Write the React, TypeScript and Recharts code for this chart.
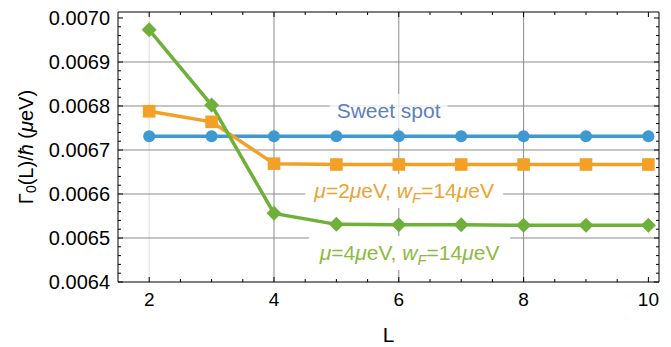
import React from 'react'
import { LineChart, Line, XAxis, YAxis, ReferenceLine, ReferenceDot } from 'recharts'

// chain length L and decay rate Γ0(L)/ħ in μeV
const lengths = [2, 3, 4, 5, 6, 7, 8, 9, 10]
const sweetSpot = [0.006731, 0.006731, 0.006731, 0.006731, 0.006731, 0.006731, 0.006731, 0.006731, 0.006731]
const mu2 = [0.006788, 0.006764, 0.006669, 0.006667, 0.006667, 0.006667, 0.006667, 0.006667, 0.006667]
const mu4 = [0.006973, 0.006802, 0.006556, 0.006531, 0.00653, 0.00653, 0.006529, 0.006529, 0.006529]

const xTicks = [2, 4, 6, 8, 10]
const xMinorTicks = [2.5, 3, 3.5, 4.5, 5, 5.5, 6.5, 7, 7.5, 8.5, 9, 9.5]
const yTicks = [0.0064, 0.0065, 0.0066, 0.0067, 0.0068, 0.0069, 0.007]
const yMinorTicks = [
  0.00642, 0.00644, 0.00646, 0.00648, 0.00652, 0.00654, 0.00656, 0.00658,
  0.00662, 0.00664, 0.00666, 0.00668, 0.00672, 0.00674, 0.00676, 0.00678,
  0.00682, 0.00684, 0.00686, 0.00688, 0.00692, 0.00694, 0.00696, 0.00698,
]
const xGridLight = [2]
const xGrid = [4, 6, 8]
const yGrid = [0.0065, 0.0066, 0.0067, 0.0068, 0.0069]

const data = lengths.map((L, i) => ({ L, sweet: sweetSpot[i], mu2: mu2[i], mu4: mu4[i] }))

const X_DOMAIN: [number, number] = [1.5, 10.17]
const Y_DOMAIN: [number, number] = [0.0064, 0.0070136]

const BLUE = '#3d99d0'
const ORANGE = '#f2a126'
const GREEN = '#6fb03a'
const GRID = '#8c8c8c'

const circleDot = (p: any) => (
  <circle key={`c${p.index}`} cx={p.cx} cy={p.cy} r={6} fill={BLUE} />
)
const squareDot = (p: any) => (
  <rect key={`s${p.index}`} x={p.cx - 6.3} y={p.cy - 6.3} width={12.6} height={12.6} fill={ORANGE} />
)
const diamondDot = (p: any) => (
  <path
    key={`d${p.index}`}
    d={`M${p.cx},${p.cy - 7.5}L${p.cx + 7.5},${p.cy}L${p.cx},${p.cy + 7.5}L${p.cx - 7.5},${p.cy}Z`}
    fill={GREEN}
  />
)

const blank = () => ''

// text label with a white box behind it, anchored at the text baseline centre
function boxLabel(width: number, bg: string, color: string, body: React.ReactNode) {
  return (props: any) => {
    const vb = props.viewBox || { x: 0, y: 0, width: 0, height: 0 }
    const cx = vb.x + vb.width / 2
    const cy = vb.y + vb.height / 2
    return (
      <g>
        <rect x={cx - width / 2} y={cy - 24} width={width} height={34} fill={bg} />
        <text x={cx} y={cy} textAnchor="middle" fontSize={21} fill={color}>
          {body}
        </text>
      </g>
    )
  }
}

const sweetLabel = boxLabel(118, 'rgba(255,255,255,0.75)', '#5b80be', 'Sweet spot')
const mu2Label = boxLabel(198, '#fff', '#eba333', (
  <>
    <tspan fontStyle="italic">μ</tspan>=2<tspan fontStyle="italic">μ</tspan>eV,{' '}
    <tspan fontStyle="italic">w</tspan>
    <tspan fontStyle="italic" fontSize={15} dy={5}>F</tspan>
    <tspan dy={-5}>=14</tspan><tspan fontStyle="italic">μ</tspan>eV
  </>
))
const mu4Label = boxLabel(201, '#fff', '#8cba3e', (
  <>
    <tspan fontStyle="italic">μ</tspan>=4<tspan fontStyle="italic">μ</tspan>eV,{' '}
    <tspan fontStyle="italic">w</tspan>
    <tspan fontStyle="italic" fontSize={15} dy={5}>F</tspan>
    <tspan dy={-5}>=14</tspan><tspan fontStyle="italic">μ</tspan>eV
  </>
))

const yTitle = (props: any) => {
  const vb = props.viewBox || { x: 0, y: 12, width: 118, height: 270 }
  const x = vb.x + 26
  const y = vb.y + vb.height / 2
  return (
    <text x={x} y={y} transform={`rotate(-90 ${x} ${y})`} textAnchor="middle" dominantBaseline="central" fontSize={20} fill="#000">
      Γ<tspan fontSize={14} dy={5}>0</tspan>
      <tspan dy={-5}>(L)/</tspan><tspan fontStyle="italic">ħ</tspan> (<tspan fontStyle="italic">μ</tspan>eV)
    </text>
  )
}

const xTitle = (props: any) => {
  const vb = props.viewBox || { x: 118, y: 282, width: 541, height: 65 }
  return (
    <text x={vb.x + vb.width / 2} y={vb.y + 60} textAnchor="middle" fontSize={21} fill="#000">
      L
    </text>
  )
}

export default function App() {
  return (
    <div style={{ position: 'absolute', left: 0, top: 0, width: 671, height: 347, background: '#fff', fontFamily: '"Liberation Sans", Arial, sans-serif' }}>
      <LineChart width={671} height={347} data={data} margin={{ top: 11, right: 11, bottom: 0, left: 0 }}>
        <XAxis
          dataKey="L" type="number" domain={X_DOMAIN} allowDataOverflow ticks={xTicks} interval={0}
          tickSize={-5} tickMargin={16} height={65} stroke="#000"
          tick={{ fill: '#000', fontSize: 19 }} label={xTitle}
        />
        <XAxis
          xAxisId="xMinor" dataKey="L" type="number" domain={X_DOMAIN} allowDataOverflow ticks={xMinorTicks} interval={0}
          mirror height={1} tickSize={3} axisLine={false} stroke="#000" tickFormatter={blank}
        />
        <XAxis
          xAxisId="top" orientation="top" dataKey="L" type="number" domain={X_DOMAIN} allowDataOverflow ticks={xTicks} interval={0}
          height={1} tickSize={-5} stroke="#000" tickFormatter={blank}
        />
        <XAxis
          xAxisId="topMinor" orientation="top" dataKey="L" type="number" domain={X_DOMAIN} allowDataOverflow ticks={xMinorTicks} interval={0}
          mirror height={1} tickSize={3} axisLine={false} stroke="#000" tickFormatter={blank}
        />
        <YAxis
          type="number" domain={Y_DOMAIN} allowDataOverflow ticks={yTicks} interval={0}
          width={118} tickSize={-5} tickMargin={13} stroke="#000"
          tick={{ fill: '#000', fontSize: 20 }} tickFormatter={(v: number) => v.toFixed(4)} label={yTitle}
        />
        <YAxis
          yAxisId="yMinor" type="number" domain={Y_DOMAIN} allowDataOverflow ticks={yMinorTicks} interval={0}
          mirror width={1} tickSize={3} axisLine={false} stroke="#000" tickFormatter={blank}
        />
        <YAxis
          yAxisId="right" orientation="right" type="number" domain={Y_DOMAIN} allowDataOverflow ticks={yTicks} interval={0}
          width={1} tickSize={-5} stroke="#000" tickFormatter={blank}
        />
        <YAxis
          yAxisId="rightMinor" orientation="right" type="number" domain={Y_DOMAIN} allowDataOverflow ticks={yMinorTicks} interval={0}
          mirror width={1} tickSize={3} axisLine={false} stroke="#000" tickFormatter={blank}
        />

        {xGridLight.map((x) => (
          <ReferenceLine key={`gl${x}`} x={x} stroke="#dcdcdc" strokeWidth={1} />
        ))}
        {xGrid.map((x) => (
          <ReferenceLine key={`gx${x}`} x={x} stroke={GRID} strokeWidth={1} />
        ))}
        {yGrid.map((y) => (
          <ReferenceLine key={`gy${y}`} y={y} stroke={GRID} strokeWidth={1} />
        ))}

        <ReferenceDot x={5.837} y={0.0067727} r={1} fill="none" stroke="none" label={sweetLabel} />
        <ReferenceDot x={6.086} y={0.0065909} r={1} fill="none" stroke="none" label={mu2Label} />
        <ReferenceDot x={6.174} y={0.00645} r={1} fill="none" stroke="none" label={mu4Label} />

        <Line dataKey="sweet" stroke={BLUE} strokeWidth={3.5} dot={circleDot} activeDot={false} isAnimationActive={false} />
        <Line dataKey="mu2" stroke={ORANGE} strokeWidth={3.5} dot={squareDot} activeDot={false} isAnimationActive={false} />
        <Line dataKey="mu4" stroke={GREEN} strokeWidth={3.5} dot={diamondDot} activeDot={false} isAnimationActive={false} />
      </LineChart>
    </div>
  )
}
